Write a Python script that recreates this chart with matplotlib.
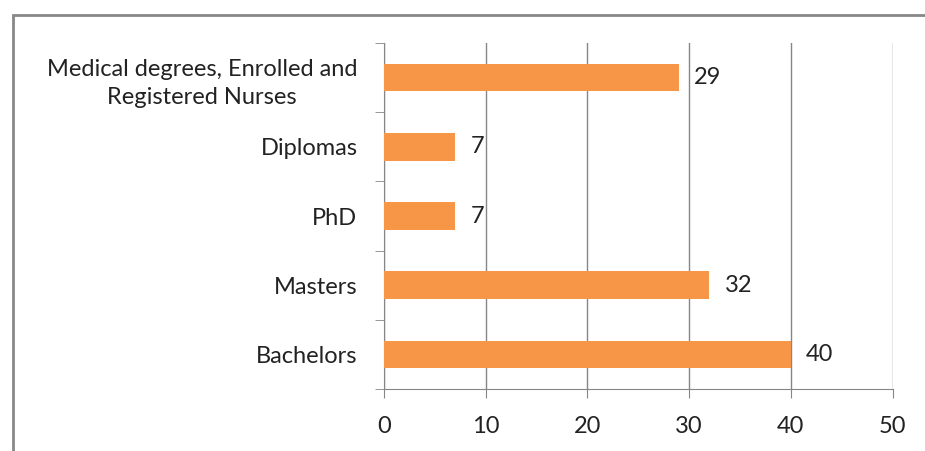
import matplotlib.pyplot as plt
from matplotlib.patches import Rectangle

categories = ["Bachelors", "Masters", "PhD", "Diplomas",
              "Medical degrees, Enrolled and\nRegistered Nurses"]
values = [40, 32, 7, 7, 29]
x_ticks = [0, 10, 20, 30, 40, 50]

plt.rcParams["font.family"] = ["Lato", "DejaVu Sans"]

fig = plt.figure(figsize=(9.25, 4.51), dpi=100)
ax = fig.add_axes([0.415, 0.1375, 0.55, 0.767])

# outer chart border (only top and left visible in the crop)
fig.patches.append(Rectangle((13 / 925, -0.5), 2, 1.5 - 15 / 451,
                             transform=fig.transFigure, fill=False,
                             edgecolor="#888888", linewidth=2))

pos = list(range(len(categories)))
ax.barh(pos, values, height=0.4, color="#F79646", zorder=3)
for p, v in zip(pos, values):
    ax.annotate(str(v), (v, p), xytext=(11, 0), textcoords="offset points",
                va="center", ha="left", fontsize=17, color="#222222")

ax.set_xlim(0, 50)
ax.set_ylim(-0.5, len(categories) - 0.5)
ax.set_xticks(x_ticks)
ax.set_xticklabels([str(t) for t in x_ticks], fontsize=17, color="#222222")
ax.set_yticks(pos)
ax.set_yticklabels(categories, fontsize=17, color="#222222",
                   multialignment="center", linespacing=1.45)
ax.tick_params(axis="y", length=0, pad=19)
ax.tick_params(axis="x", length=6.5, color="#868686", pad=13, direction="out")

# category boundary ticks on the y axis
ax.set_yticks([i - 0.5 for i in range(len(categories) + 1)], minor=True)
ax.tick_params(axis="y", which="minor", length=6.5, color="#868686")

ax.grid(axis="x", color="#868686", linewidth=1, zorder=0)
for s in ["top", "right"]:
    ax.spines[s].set_visible(False)
for s in ["left", "bottom"]:
    ax.spines[s].set_color("#868686")

fig.savefig("out.png", dpi=100)
